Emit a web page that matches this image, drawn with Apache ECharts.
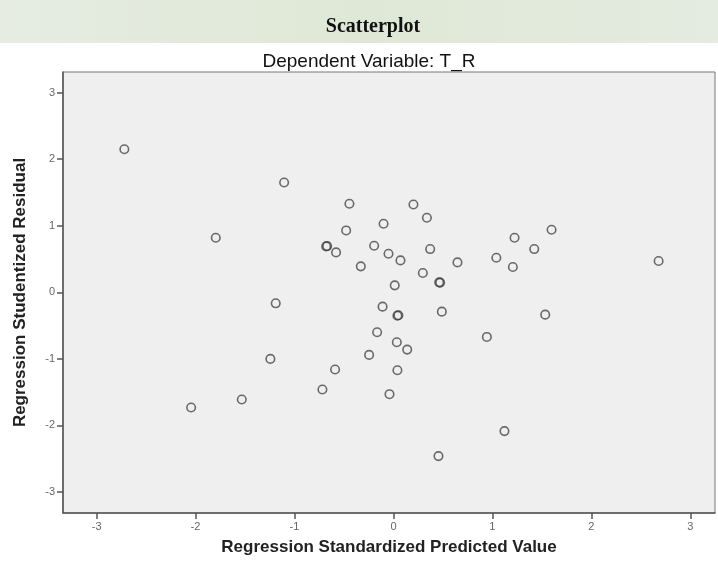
<!DOCTYPE html>
<html>
<head>
<meta charset="utf-8">
<script src="https://cdn.jsdelivr.net/npm/echarts@6/dist/echarts.min.js"></script>
<style>
html,body{margin:0;padding:0;background:#fff;}
#chart{width:718px;height:567px;}
</style>
</head>
<body>
<div id="chart"></div>
<script>
// Data
var xValues = [-2.72, -1.105, -1.796, -0.445, -0.478, -0.68, -0.67, -0.58, -0.33, -0.10, -0.195, -0.05, 0.071,
  0.202, 0.338, 0.371, 0.297, 0.472, 0.462, 0.647, 1.04, 1.224, 1.207, 1.423, 1.598, 2.68,
  -1.19, 0.013, -0.11, 0.04, 0.05, 0.489, 1.534, -0.165, 0.034, 0.139, -0.246, 0.944,
  -1.244, -0.59, 0.04, -0.718, -0.04, -1.533, -2.045, 1.122, 0.455];
var yValues = [2.15, 1.65, 0.82, 1.33, 0.93, 0.69, 0.695, 0.60, 0.39, 1.03, 0.70, 0.58, 0.48,
  1.32, 1.12, 0.65, 0.29, 0.146, 0.15, 0.45, 0.52, 0.82, 0.38, 0.65, 0.94, 0.47,
  -0.165, 0.105, -0.215, -0.35, -0.345, -0.29, -0.335, -0.60, -0.75, -0.86, -0.94, -0.67,
  -1.00, -1.16, -1.17, -1.46, -1.53, -1.61, -1.73, -2.085, -2.46];
var xTicks = [-3, -2, -1, 0, 1, 2, 3];
var yTicks = [-3, -2, -1, 0, 1, 2, 3];

var points = xValues.map(function (x, i) { return [x, yValues[i]]; });

var chart = echarts.init(document.getElementById('chart'), null, {renderer: 'canvas'});
chart.setOption({
  backgroundColor: '#ffffff',
  animation: false,
  graphic: [{
    type: 'rect', z: -10, silent: true,
    shape: {x: 0, y: 0, width: 718, height: 43},
    style: {fill: new echarts.graphic.LinearGradient(0, 0, 1, 0, [
      {offset: 0, color: '#e6ece2'}, {offset: 0.5, color: '#dfe8d6'}, {offset: 1, color: '#e4ebe0'}])}
  }],
  title: [{
    text: 'Scatterplot', left: 368, textAlign: 'center', top: 12,
    textStyle: {fontFamily: 'Liberation Serif', fontWeight: 'bold', fontSize: 20, color: '#111'}
  }, {
    text: 'Dependent Variable: T_R', left: 364, textAlign: 'center', top: 47,
    textStyle: {fontFamily: 'Liberation Sans', fontWeight: 'normal', fontSize: 19, color: '#111'}
  }],
  grid: {
    left: 63, top: 72, right: 3, bottom: 54,
    show: true, backgroundColor: '#efefef', borderColor: '#777', borderWidth: 1
  },
  xAxis: {
    type: 'value', min: -3.34, max: 3.25,
    name: 'Regression Standardized Predicted Value', nameLocation: 'middle', nameGap: 26,
    nameTextStyle: {fontFamily: 'Liberation Sans', fontWeight: 'bold', fontSize: 17, color: '#222'},
    axisLine: {show: true, onZero: false, lineStyle: {color: '#555', width: 1.5}},
    axisTick: {show: true, length: 6, customValues: xTicks, lineStyle: {color: '#555', width: 1.5}},
    axisLabel: {customValues: xTicks, margin: 8, fontFamily: 'Liberation Sans', fontSize: 11, color: '#666'},
    splitLine: {show: false}
  },
  yAxis: {
    type: 'value', min: -3.315, max: 3.31,
    name: 'Regression Studentized Residual', nameLocation: 'middle', nameGap: 34, nameRotate: 90,
    nameTextStyle: {fontFamily: 'Liberation Sans', fontWeight: 'bold', fontSize: 17, color: '#222'},
    axisLine: {show: true, onZero: false, lineStyle: {color: '#555', width: 1.5}},
    axisTick: {show: true, length: 6, customValues: yTicks, lineStyle: {color: '#555', width: 1.5}},
    axisLabel: {customValues: yTicks, margin: 8, fontFamily: 'Liberation Sans', fontSize: 11, color: '#666'},
    splitLine: {show: false}
  },
  series: [{
    type: 'scatter',
    data: points,
    symbol: 'circle',
    symbolSize: 8.5,
    itemStyle: {color: 'rgba(0,0,0,0)', borderColor: 'rgba(60,60,60,0.75)', borderWidth: 1.6, opacity: 1}
  }]
});
</script>
</body>
</html>
